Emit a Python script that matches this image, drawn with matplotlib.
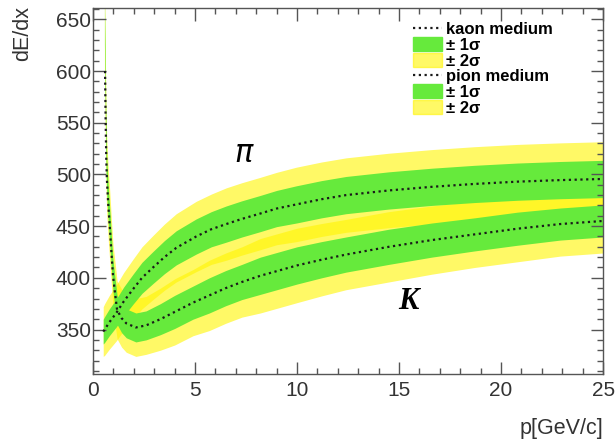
import matplotlib
matplotlib.use('Agg')
import matplotlib.pyplot as plt
import numpy as np
from matplotlib.lines import Line2D
from matplotlib.patches import Patch
from matplotlib.ticker import MultipleLocator

# ── Data ──────────────────────────────────────────────────────────────────────
kaon_p = [0.56, 0.59, 0.62, 0.65, 0.68, 0.75, 0.82, 0.90, 0.98, 1.08, 1.18,
          1.40, 1.63, 2.10, 2.60, 3.30, 4.00, 4.90, 5.70, 6.50, 7.30, 8.20,
          9.10, 10.0, 11.2, 12.4, 14.5, 16.6, 18.7, 20.8, 22.9, 25.0]
kaon_dedx = [650, 600, 550, 515, 495, 470, 450, 425, 402, 385, 369,
             361, 356, 352, 354, 360, 367, 376, 383, 390, 396, 402,
             407, 412, 417.5, 422.5, 430, 436.5, 442, 447.5, 452, 455]
kaon_sigma = [24, 22, 20, 19, 18, 17, 17, 16, 15, 15, 14,
              14, 14, 14, 14, 15, 16, 16, 17, 17, 17, 18,
              18, 18, 17.5, 17, 17, 16.5, 16, 16, 15.5, 15.5]

pion_p = [0.50, 0.57, 0.80, 1.14, 1.50, 1.96, 2.40, 2.94, 3.50, 4.08, 5.06,
          5.80, 6.53, 7.30, 8.17, 9.00, 9.97, 11.2, 12.4, 14.5, 16.6, 18.7,
          20.8, 22.9, 25.0]
pion_dedx = [348, 350, 357, 366, 377, 389, 400, 410, 420, 429, 440,
             447, 452, 457, 462, 467, 471, 476, 480, 484.5, 488, 490.8,
             493, 494.5, 495.6]
pion_sigma = [12, 12.5, 13, 13.5, 14, 14.5, 15, 15.5, 16, 16.5, 17,
              17, 17.5, 17.5, 17.5, 17.5, 18, 18, 18, 18, 18, 18,
              18, 18, 18]

GREEN = '#66ea3c'
YELLOW = '#fff500'
YALPHA = 0.6
TXT = '#333333'

plt.rcParams['font.family'] = ['Liberation Sans', 'DejaVu Sans']

fig = plt.figure(figsize=(6.16, 4.4), dpi=100)
ax = fig.add_axes([0.151, 0.150, 0.828, 0.832])

kp, kd, ks = np.array(kaon_p), np.array(kaon_dedx), np.array(kaon_sigma)
pp, pd, ps = np.array(pion_p), np.array(pion_dedx), np.array(pion_sigma)

# ── Bands: yellows first, greens on top ──────────────────────────────────────
ax.fill_between(kp, kd - 2 * ks, kd + 2 * ks, color=YELLOW, alpha=YALPHA, lw=0)
ax.fill_between(pp, pd - 2 * ps, pd + 2 * ps, color=YELLOW, alpha=YALPHA, lw=0)
ax.fill_between(kp, kd - ks, kd + ks, color=GREEN, lw=0)
ax.fill_between(pp, pd - ps, pd + ps, color=GREEN, lw=0)

dot = (0, (1, 1.6))
ax.plot(kp[1:], kd[1:], color='#1a1a1a', lw=1.6, ls=dot)
ax.plot(pp, pd, color='#1a1a1a', lw=1.6, ls=dot)

ax.text(7.4, 520, r'$\pi$', fontsize=22, ha='center', va='center',
        fontweight='bold')
ax.text(15.45, 377, 'K', fontsize=22, ha='center', va='center',
        family='Liberation Serif', fontweight='bold', style='italic')

# ── Axes styling (ROOT look) ─────────────────────────────────────────────────
ax.set_xlim(0, 25)
ax.set_ylim(307, 661)
ax.xaxis.set_major_locator(MultipleLocator(5))
ax.xaxis.set_minor_locator(MultipleLocator(1))
ax.yaxis.set_major_locator(MultipleLocator(50))
ax.yaxis.set_minor_locator(MultipleLocator(10))
ax.tick_params(which='both', direction='in', top=True, right=True,
               color='#555555', width=1.0)
ax.tick_params(which='major', length=9)
ax.tick_params(which='minor', length=4)
ax.tick_params(axis='x', which='major', labelsize=15, pad=5, labelcolor=TXT)
ax.tick_params(axis='y', which='major', labelsize=15, pad=1.5, labelcolor=TXT)
ax.set_yticks([350, 400, 450, 500, 550, 600, 650])
for s in ax.spines.values():
    s.set_color('#555555')
    s.set_linewidth(1.0)

fig.text(0.037, 0.987, 'dE/dx', rotation=90, ha='center', va='top',
         fontsize=15.5, color=TXT)
fig.text(0.979, 0.027, 'p[GeV/c]', ha='right', va='center',
         fontsize=15.5, color=TXT)

handles = [
    Line2D([], [], color='#1a1a1a', lw=1.6, ls=dot),
    Patch(color=GREEN), Patch(color=YELLOW, alpha=YALPHA),
    Line2D([], [], color='#1a1a1a', lw=1.6, ls=dot),
    Patch(color=GREEN), Patch(color=YELLOW, alpha=YALPHA),
]
labels = ['kaon medium', '± 1σ', '± 2σ', 'pion medium', '± 1σ', '± 2σ']
ax.legend(handles, labels, loc='upper left', bbox_to_anchor=(0.628, 0.962),
          frameon=False, prop={'size': 12, 'weight': 'bold'},
          handlelength=1.7, handleheight=0.9, handletextpad=0.25,
          labelspacing=0.0, borderpad=0, borderaxespad=0)

fig.savefig('out.png', dpi=100)
